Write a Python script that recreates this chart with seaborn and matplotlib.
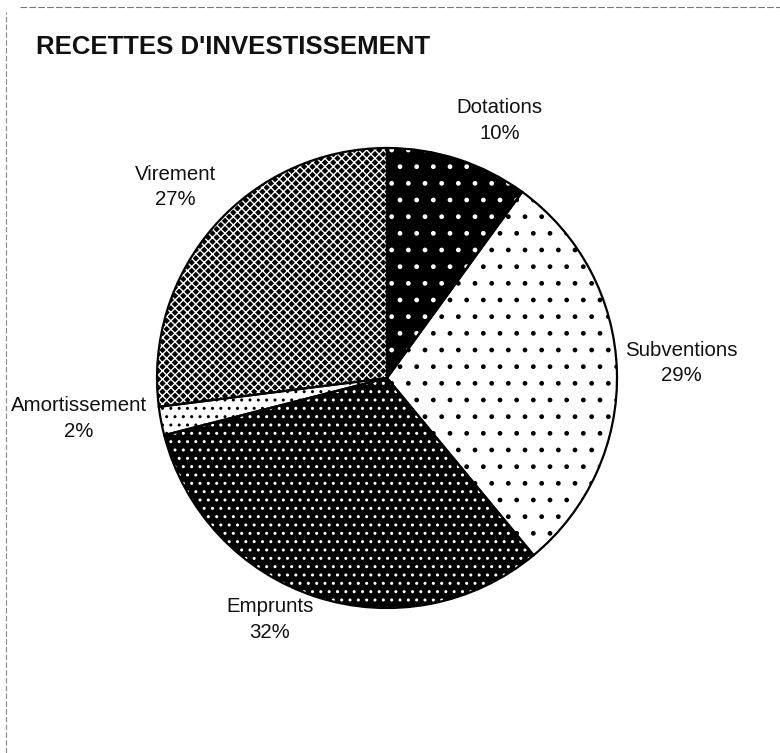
import matplotlib
matplotlib.use('Agg')
import matplotlib.pyplot as plt
import seaborn as sns

# données du graphique
categories = ['Dotations', 'Subventions', 'Emprunts', 'Amortissement', 'Virement']
parts = [10, 29, 32, 2, 27]
pourcentages = ['10%', '29%', '32%', '2%', '27%']

# motifs (fond, couleur des points, hachure)
fonds = ['black', 'white', 'black', 'white', 'black']
points = ['white', 'black', 'white', 'black', 'white']
hachures = ['.', '.', '..', '..', 'xxxx']

# position des étiquettes (en rayons)
pos_etiquettes = [(0.49, 1.12), (1.28, 0.065), (-0.51, -1.05), (-1.34, -0.175), (-0.92, 0.83)]

sns.set_theme(style='white')
plt.rcParams['font.family'] = ['Liberation Sans', 'DejaVu Sans']
plt.rcParams['hatch.linewidth'] = 1.0

fig = plt.figure(figsize=(7.8, 7.53), dpi=100)
ax = fig.add_axes([0, 0, 1, 1])

# parts hachurées
wedges, _ = ax.pie(parts, startangle=90, counterclock=False, radius=1,
                   wedgeprops=dict(linewidth=0))
for w, fc, pc, h in zip(wedges, fonds, points, hachures):
    w.set_facecolor(fc)
    w.set_edgecolor(pc)
    w.set_hatch(h)

# contours
ax.pie(parts, startangle=90, counterclock=False, radius=1,
       wedgeprops=dict(fill=False, edgecolor='black', linewidth=1.6))

for (x, y), cat, p in zip(pos_etiquettes, categories, pourcentages):
    ax.text(x, y, cat + '\n' + p, ha='center', va='center', fontsize=14.7,
            linespacing=1.45, color='#111111')

ax.set_xlim(-387 / 230, (780 - 387) / 230)
ax.set_ylim(-375 / 230, 378 / 230)
ax.set_aspect('auto')
ax.axis('off')

fig.text(36 / 780, 1 - 47 / 753, "RECETTES D'INVESTISSEMENT", fontsize=18.5,
         fontweight='bold', ha='left', va='center', color='#111111')

# cadre en pointillés (bord du document)
fig.add_artist(plt.Line2D([20 / 780, 1], [1 - 7 / 753] * 2, color='#777777',
                          lw=0.8, ls=(0, (6, 2))))
fig.add_artist(plt.Line2D([6 / 780] * 2, [0, 1 - 12 / 753], color='#888888',
                          lw=0.8, ls=(0, (5, 2))))

fig.savefig('out.png', dpi=100, facecolor='white')
